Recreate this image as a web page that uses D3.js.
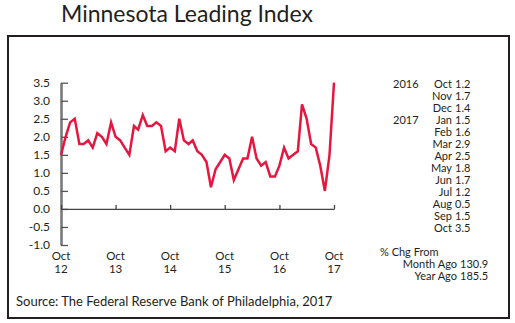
<!DOCTYPE html>
<html>
<head>
<meta charset="utf-8">
<script src="https://cdn.jsdelivr.net/npm/d3@7"></script>
<style>
  body { margin: 0; background: #fff; }
  text { font-family: Lato, "Open Sans", sans-serif; fill: #231f20; }
</style>
</head>
<body>
<div class="svg-container"></div>
<script>
var width = 515;
var height = 323;

// monthly index, Oct 2012 .. Oct 2017
var startMonth = new Date(2012, 9, 1);
var values = [1.5, 2.0, 2.4, 2.5, 1.8, 1.8, 1.9, 1.7, 2.1, 2.0,
              1.8, 2.4, 2.0, 1.9, 1.7, 1.5, 2.3, 2.2, 2.6, 2.3,
              2.3, 2.4, 2.3, 1.6, 1.7, 1.6, 2.5, 1.9, 1.8, 1.9,
              1.6, 1.5, 1.3, 0.6, 1.1, 1.3, 1.5, 1.4, 0.8, 1.1,
              1.4, 1.4, 2.0, 1.4, 1.2, 1.3, 0.9, 0.9, 1.2, 1.7,
              1.4, 1.5, 1.6, 2.9, 2.5, 1.8, 1.7, 1.2, 0.5, 1.5, 3.5];

var yTicks = [-1.0, -0.5, 0.0, 0.5, 1.0, 1.5, 2.0, 2.5, 3.0, 3.5];
var xTickYears = ["12", "13", "14", "15", "16", "17"];

// side table: last 13 months
var tableMonths = ["Oct", "Nov", "Dec", "Jan", "Feb", "Mar", "Apr",
                   "May", "Jun", "Jul", "Aug", "Sep", "Oct"];
var tableYears = [{ row: 0, label: "2016" }, { row: 3, label: "2017" }];
var pctLabels = ["Month Ago", "Year Ago"];
var pctValues = ["130.9", "185.5"];

var data = values.map(function(v, i) {
  return { date: d3.timeMonth.offset(startMonth, i), value: v };
});

var svg = d3.select(".svg-container").append("svg")
            .attr("width", width)
            .attr("height", height);

// title + frame
svg.append("text")
   .attr("x", 61)
   .attr("y", 22)
   .style("font-size", "23px")
   .text("Minnesota Leading Index");

svg.append("rect")
   .attr("x", 8)
   .attr("y", 36)
   .attr("width", 501)
   .attr("height", 282)
   .attr("fill", "none")
   .attr("stroke", "#231f20")
   .attr("stroke-width", 2);

var scaleX = d3.scaleTime()
               .domain([startMonth, d3.timeMonth.offset(startMonth, values.length - 1)])
               .range([61, 334]);

var scaleY = d3.scaleLinear()
               .domain([-1, 3.5])
               .range([245, 82.7]);

// y axis: ticks point inward, labels on the left
var yAxis = svg.append("g")
               .attr("transform", "translate(61,0)")
               .call(d3.axisLeft(scaleY)
                       .tickValues(yTicks)
                       .tickSizeInner(-7)
                       .tickSizeOuter(0)
                       .tickPadding(11)
                       .tickFormat(function(d) { return d.toFixed(1); }));

yAxis.select(".domain").attr("stroke", "#7a7a7a").attr("stroke-width", 2.6);
yAxis.selectAll(".tick line").attr("stroke", "#555").attr("stroke-width", 1.3);
yAxis.selectAll(".tick text")
     .attr("fill", "#231f20")
     .style("font-size", "12px")
     .style("font-family", "Lato, 'Open Sans', sans-serif");

// zero line with upward ticks at each October
var xTicks = xTickYears.map(function(y, i) { return d3.timeYear.offset(startMonth, i); });

var xAxis = svg.append("g")
               .attr("transform", "translate(0," + scaleY(0) + ")")
               .call(d3.axisTop(scaleX)
                       .tickValues(xTicks)
                       .tickSizeInner(4)
                       .tickSizeOuter(0)
                       .tickFormat(""));

xAxis.select(".domain").attr("stroke", "#444").attr("stroke-width", 1.3);
xAxis.selectAll(".tick line").attr("stroke", "#444").attr("stroke-width", 1.3);

// two-line x labels at the bottom
var xLabels = svg.append("g").attr("class", "x-labels").style("font-size", "11.5px");
xLabels.selectAll("text.mon")
       .data(xTicks)
       .enter()
       .append("text")
       .attr("x", function(d) { return scaleX(d); })
       .attr("y", 260)
       .attr("text-anchor", "middle")
       .text("Oct");
xLabels.selectAll("text.yr")
       .data(xTickYears)
       .enter()
       .append("text")
       .attr("x", function(d, i) { return scaleX(xTicks[i]); })
       .attr("y", 273)
       .attr("text-anchor", "middle")
       .text(function(d) { return d; });

// index line
var line = d3.line()
             .x(function(d) { return scaleX(d.date); })
             .y(function(d) { return scaleY(d.value); });

svg.append("path")
   .datum(data)
   .attr("fill", "none")
   .attr("stroke", "#e5173f")
   .attr("stroke-width", 2.5)
   .attr("stroke-linejoin", "miter")
   .attr("d", line);

// side table
var tableValues = values.slice(-tableMonths.length);
var table = svg.append("g").style("font-size", "11px");
var rowY = function(i) { return 88 + 12 * i; };

table.selectAll("text.year")
     .data(tableYears)
     .enter()
     .append("text")
     .attr("x", 393)
     .attr("y", function(d) { return rowY(d.row); })
     .text(function(d) { return d.label; });

table.selectAll("text.month")
     .data(tableMonths)
     .enter()
     .append("text")
     .attr("x", 452)
     .attr("y", function(d, i) { return rowY(i); })
     .attr("text-anchor", "end")
     .text(function(d) { return d; });

table.selectAll("text.val")
     .data(tableValues)
     .enter()
     .append("text")
     .attr("x", 455)
     .attr("y", function(d, i) { return rowY(i); })
     .text(function(d) { return d.toFixed(1); });

table.append("text")
     .attr("x", 380)
     .attr("y", 256)
     .text("% Chg From");

table.selectAll("text.pct-label")
     .data(pctLabels)
     .enter()
     .append("text")
     .attr("x", 457)
     .attr("y", function(d, i) { return 268 + 12 * i; })
     .attr("text-anchor", "end")
     .text(function(d) { return d; });

table.selectAll("text.pct-val")
     .data(pctValues)
     .enter()
     .append("text")
     .attr("x", 460)
     .attr("y", function(d, i) { return 268 + 12 * i; })
     .text(function(d) { return d; });

// source note
svg.append("text")
   .attr("x", 16)
   .attr("y", 306)
   .style("font-size", "13px")
   .text("Source: The Federal Reserve Bank of Philadelphia, 2017");
</script>
</body>
</html>
